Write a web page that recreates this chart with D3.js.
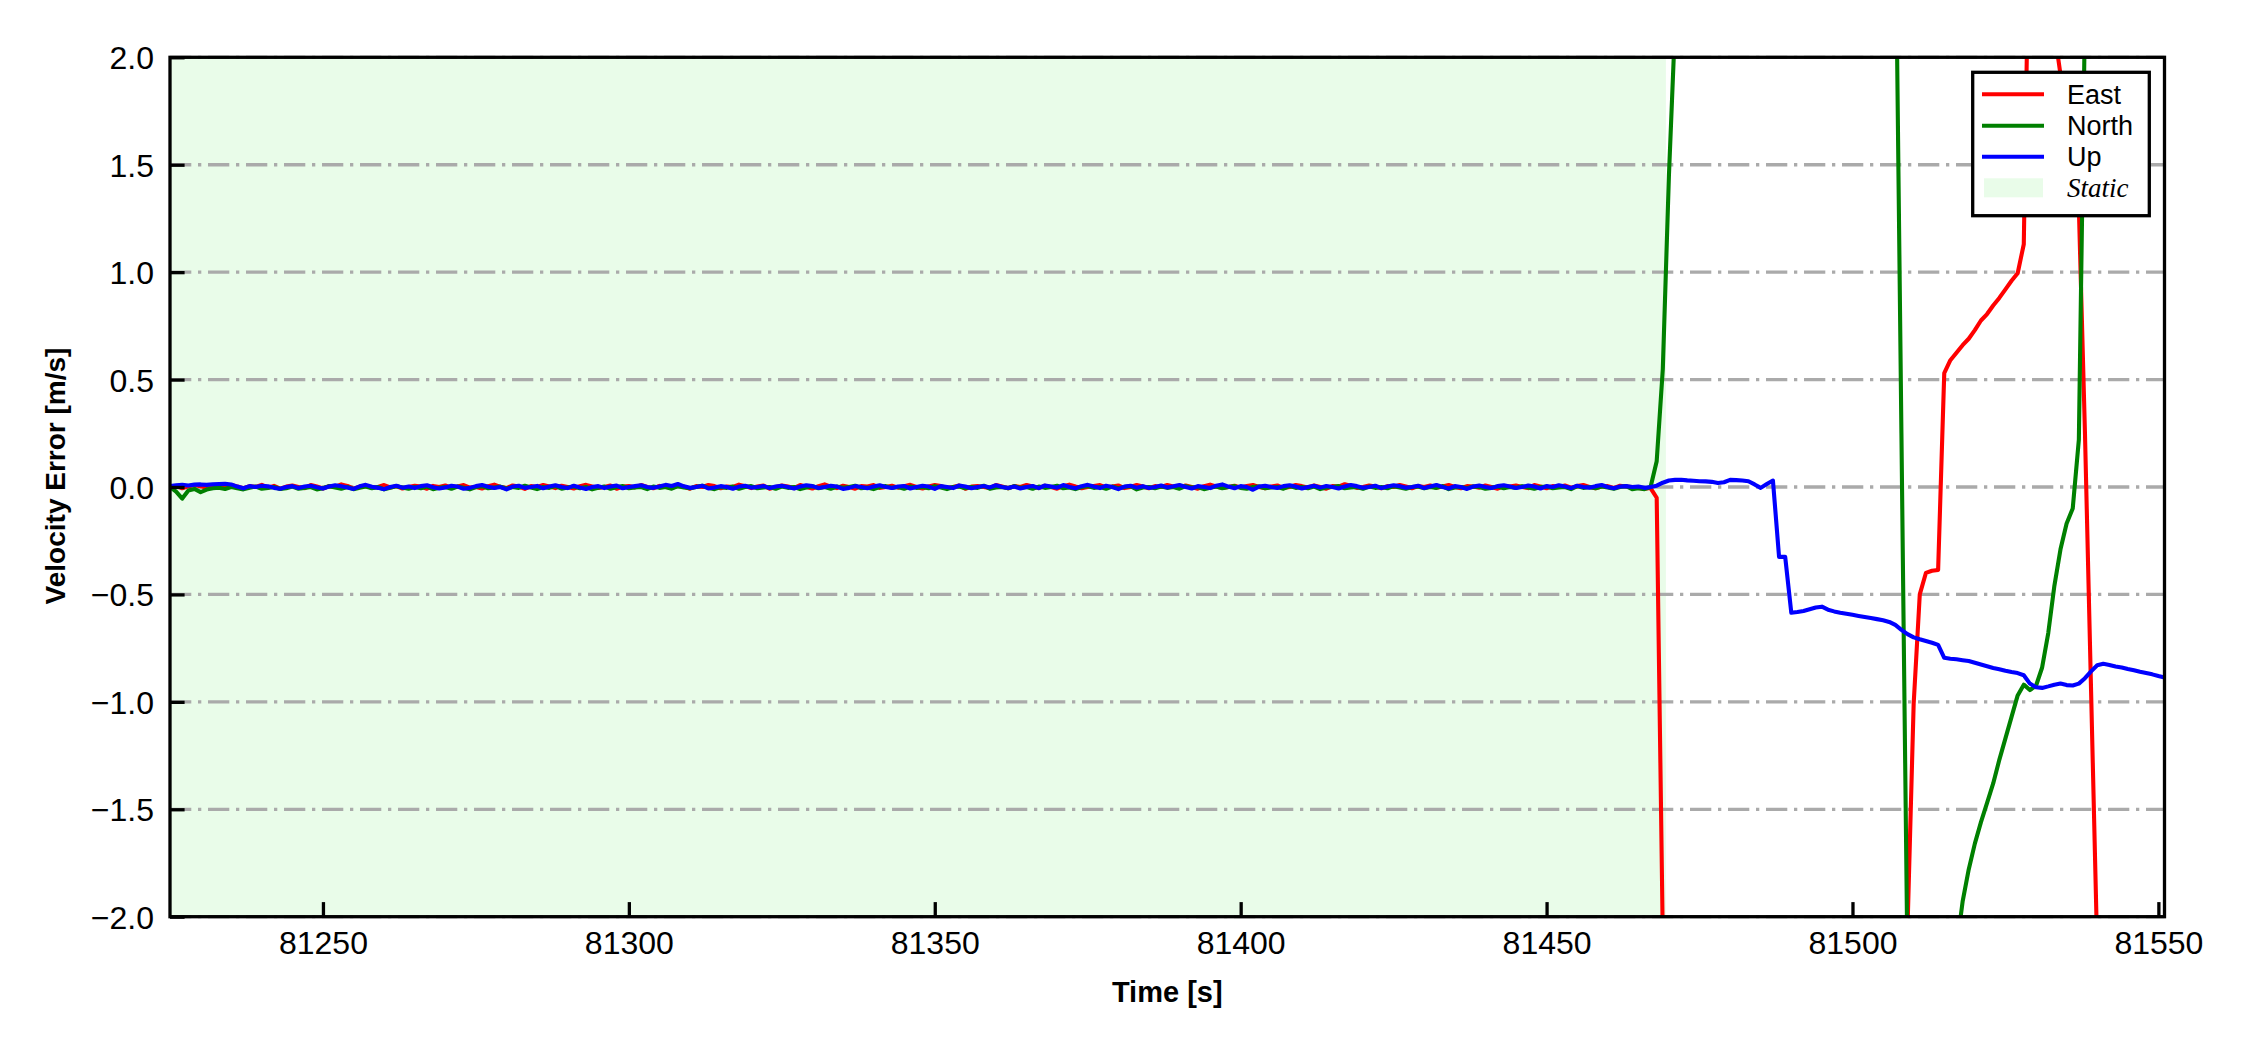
<!DOCTYPE html>
<html>
<head>
<meta charset="utf-8">
<script src="https://cdn.jsdelivr.net/npm/d3@7"></script>
<style>
body { margin: 0; background: #fff; }
</style>
</head>
<body>
<script>
// static segment, 1 Hz from 81225 s to 81466 s
const staticStart = 81225;
const eastStatic = [
  .000,.005,-.006,.003,.008,.004,-.003,.007,.000,-.005,.009,.002,-.006,.004,.000,.010,-.003,.005,-.008,.002,
  .007,.000,-.005,.009,.002,-.007,.004,.000,.012,.005,-.008,.002,.006,-.004,.000,.009,-.002,.004,-.007,.000,
  .006,.002,-.008,.005,.000,.007,-.004,.002,.009,-.003,.000,-.007,.004,.011,.000,-.005,.007,.002,-.009,.004,
  .000,.009,.002,-.005,.006,.000,-.007,.004,.010,.002,-.005,.000,.007,-.008,.002,.005,-.002,.009,.000,-.006,
  .005,.000,-.005,.007,.002,-.008,.004,.000,.009,.004,-.006,.002,.000,.011,.004,-.005,.002,.007,-.008,.000,
  .007,.002,-.005,.009,.000,-.007,.004,.012,.002,-.005,.006,.000,-.008,.004,.002,.009,-.004,.000,.006,-.003,
  .004,.010,.000,-.007,.002,.009,.004,-.005,.000,.007,-.008,.002,.005,.000,-.005,.009,.002,-.006,.004,.000,
  .009,.002,-.005,.006,.000,-.008,.004,.011,.002,-.006,.000,.005,.009,-.002,.002,.007,-.005,.000,.009,.002,
  -.006,.004,.000,.009,.002,-.005,.007,.000,-.008,.004,.011,.002,-.005,.000,.006,-.003,.005,.009,.000,-.006,
  .002,.007,-.005,.000,.009,.004,-.002,.007,.000,-.008,.004,.002,.013,.006,-.004,.000,.007,.002,-.006,.004,
  .000,.009,.002,-.006,.004,.000,.007,-.004,.002,.009,.000,-.006,.004,.002,-.003,.007,.000,-.008,.004,.002,
  .007,.000,-.005,.009,.002,-.006,.004,.000,.007,-.003,.004,.009,.000,-.006,.002,.004,-.005,.006,.002,.000,
  -.004,-.008
];
const northStatic = [
  .000,-.022,-.054,-.016,-.009,-.024,-.012,-.006,-.003,-.009,.000,-.006,-.011,-.004,.002,-.008,-.004,.000,-.009,-.006,
  .002,-.008,-.004,.000,-.011,-.006,.004,-.002,-.008,.000,-.010,-.004,.002,-.006,.000,-.011,-.004,.004,-.002,-.008,
  .000,-.006,.002,-.010,-.004,.000,-.008,.002,-.004,-.011,.000,.004,-.006,-.002,.002,-.008,.000,-.004,.006,-.002,
  -.010,.000,-.004,.004,-.008,-.002,.002,-.006,.000,-.011,-.004,.002,-.008,.000,.004,-.006,-.002,.000,-.010,.002,
  -.004,.000,-.008,.004,-.002,-.006,.000,.006,-.004,-.010,.000,-.004,.002,-.008,.000,.004,-.006,-.002,.000,-.008,
  .002,-.004,.000,-.010,-.002,.004,-.006,.000,-.008,.002,-.004,.000,.006,-.006,-.002,-.010,.000,.004,-.004,.000,
  -.008,.002,-.004,.000,-.006,.004,-.002,-.010,.000,.002,-.006,.000,-.004,.006,-.008,-.002,.000,-.006,.004,-.004,
  .000,-.008,.002,-.004,.000,.006,-.006,-.002,-.010,.000,.004,-.004,.000,-.008,.002,-.006,.000,.004,-.011,-.002,
  .000,-.006,.002,-.004,.000,-.008,.004,-.002,.000,-.010,-.004,.002,-.006,.000,.004,-.004,-.008,.000,.002,-.006,
  -.002,.000,-.008,.004,-.004,.000,-.006,.002,-.010,-.002,.000,.004,-.006,-.002,.000,-.008,.002,-.004,.000,-.006,
  .004,-.002,-.008,.000,.002,-.006,.000,-.004,.004,-.010,-.002,.000,-.006,.002,.000,-.008,-.004,.002,-.006,.000,
  -.004,.004,-.002,-.008,.000,.002,-.006,-.002,.000,-.010,.004,-.004,.000,-.006,.002,-.002,-.008,.000,.004,-.010,
  -.006,-.010
];
const upStatic = [
  .004,.008,.010,.007,.011,.012,.010,.013,.014,.015,.012,.002,-.006,.004,.000,.006,.003,-.004,-.008,.000,
  .004,-.005,.002,.006,-.001,-.007,.002,.008,.003,-.002,-.009,.003,.010,.001,-.004,-.010,.000,.006,-.003,.002,
  -.005,.004,.008,-.001,-.007,-.002,.006,.002,-.008,-.004,.004,.009,.001,-.005,.000,-.011,.002,.006,-.004,.000,
  .005,-.006,.002,.008,.000,-.005,.006,-.002,-.009,.000,.004,-.005,.002,.007,-.006,.000,.004,.008,.000,-.004,
  .002,.010,.005,.014,.003,-.004,.000,.006,-.007,-.002,.004,.000,-.008,.002,.006,-.003,.000,.005,-.005,.002,
  .006,.000,-.007,.002,.008,.004,-.005,.000,.006,.002,-.009,-.004,.004,.000,-.006,.002,.008,.000,-.005,.002,
  .005,-.007,.000,.006,.002,-.009,.004,.000,-.005,.007,.002,-.006,.000,.005,-.002,.008,.000,-.005,.002,-.007,
  .000,.005,-.005,.007,.002,-.003,.009,.000,-.006,.004,.010,.002,-.005,.006,.000,-.010,.002,.006,-.003,.004,
  -.005,.000,.007,-.002,.003,.009,.000,-.007,.004,.000,-.005,.006,.012,.002,-.006,.004,.000,-.013,.002,.006,
  .000,-.005,.004,.008,.002,-.007,.000,.006,-.003,.005,.000,-.007,.002,.009,.004,-.003,.000,.006,-.005,.002,
  .008,.004,-.003,.000,.006,-.005,.002,.009,.000,-.007,.004,.000,-.009,.002,.007,.000,-.005,.004,.008,.002,
  -.005,.000,.007,.002,-.007,.004,.000,.008,.002,-.005,.006,.000,-.003,.004,.009,.000,-.006,.002,.004,.000,
  .002,-.004
];

// dynamic segment, 1 Hz from 81467 s to 81551 s
const dynStart = 81467;
const eastDyn = [
  -.005,-.050,-2.10,-3.0,-3.6,-4.1,-4.5,-4.8,-5.0,-5.1,
  -5.2,-5.2,-5.1,-5.0,-4.9,-4.8,-4.7,-4.6,-4.5,-4.4,
  -4.3,-4.2,-4.1,-4.0,-3.9,-3.8,-3.8,-3.7,-3.6,-3.6,
  -3.5,-3.5,-3.4,-3.4,-3.3,-3.3,-3.3,-3.2,-3.2,-3.2,
  -3.1,-3.1,-2.05,-1.01,-.500,-.400,-.390,-.386,.530,.590,
  .625,.660,.690,.730,.775,.805,.845,.880,.920,.960,
  .995,1.13,2.90,3.40,3.20,2.60,2.12,1.92,1.72,1.52,
  1.30,.250,-.950,-2.15,-3.0,-3.6,-4.0,-4.3,-4.5,-4.6,
  -4.7,-4.7,-4.8,-4.8,-4.9
];
const northDyn = [
  .000,.120,.550,1.45,2.15,3.0,3.7,4.3,4.8,5.2,
  5.5,5.7,5.8,5.9,5.9,5.8,5.7,5.6,5.5,5.4,
  5.3,5.2,5.1,5.0,4.9,4.8,4.7,4.6,4.5,4.4,
  4.3,4.2,4.1,4.0,3.9,3.8,3.7,3.6,3.5,3.3,
  2.75,.250,-2.25,-3.5,-4.2,-4.5,-4.4,-3.9,-3.3,-2.7,
  -2.15,-1.93,-1.78,-1.66,-1.56,-1.47,-1.38,-1.27,-1.17,-1.07,
  -.970,-.920,-.945,-.925,-.840,-.680,-.460,-.290,-.170,-.100,
  .220,2.20,3.4,4.2,4.8,5.2,5.5,5.7,5.9,6.0,
  6.1,6.1,6.2,6.2,6.2
];
const upDyn = [
  .000,.006,.020,.030,.033,.034,.031,.029,.027,.026,
  .024,.019,.022,.033,.032,.030,.027,.012,-.004,.014,
  .030,-.325,-.325,-.585,-.582,-.577,-.569,-.561,-.557,-.571,
  -.579,-.585,-.590,-.595,-.600,-.605,-.610,-.615,-.620,-.628,
  -.642,-.665,-.685,-.700,-.709,-.717,-.725,-.735,-.795,-.799,
  -.802,-.806,-.810,-.818,-.826,-.834,-.842,-.848,-.855,-.861,
  -.866,-.876,-.915,-.932,-.935,-.928,-.920,-.915,-.922,-.924,
  -.915,-.890,-.858,-.830,-.823,-.828,-.835,-.840,-.847,-.853,
  -.860,-.866,-.872,-.880,-.887
];

const seriesNames = ["East", "North", "Up"];
const seriesColors = ["#ff0000", "#008000", "#0000ff"];
const staticRange = [81225, 81469.5];
const xTicks = [81250, 81300, 81350, 81400, 81450, 81500, 81550];
const yTicks = [-2.0, -1.5, -1.0, -0.5, 0.0, 0.5, 1.0, 1.5, 2.0];

if (eastStatic.length !== 242 || northStatic.length !== 242 || upStatic.length !== 242 ||
    eastDyn.length !== 85 || northDyn.length !== 85 || upDyn.length !== 85) {
  throw new Error("length mismatch " + [eastStatic.length, northStatic.length, upStatic.length,
    eastDyn.length, northDyn.length, upDyn.length].join(","));
}

function toPoints(st, dy) {
  const pts = st.map((v, i) => [staticStart + i, v]);
  return pts.concat(dy.map((v, i) => [dynStart + i, v]));
}
const series = [
  toPoints(eastStatic, eastDyn),
  toPoints(northStatic, northDyn),
  toPoints(upStatic, upDyn)
];

const W = 2250, H = 1050;
const plotL = 170, plotR = 2164.5, plotT = 57.3, plotB = 916.7;
const font = "'Liberation Sans', Arial, sans-serif";

const svg = d3.select("body").append("svg")
  .attr("width", W)
  .attr("height", H)
  .style("background-color", "white");

const x = d3.scaleLinear().domain([81225, 81551]).range([plotL, plotR]);
const y = d3.scaleLinear().domain([-2, 2]).range([plotB, plotT]);

svg.append("defs").append("clipPath").attr("id", "plotclip")
  .append("rect")
  .attr("x", plotL).attr("y", plotT)
  .attr("width", plotR - plotL).attr("height", plotB - plotT);

// static shading
svg.append("rect")
  .attr("x", x(staticRange[0]))
  .attr("y", plotT)
  .attr("width", x(staticRange[1]) - x(staticRange[0]))
  .attr("height", plotB - plotT)
  .attr("fill", "#e9fce9");

// grid
svg.append("g").selectAll("line")
  .data(yTicks)
  .enter().append("line")
  .attr("x1", plotL).attr("x2", plotR)
  .attr("y1", d => y(d)).attr("y2", d => y(d))
  .attr("stroke", "#aaaaaa")
  .attr("stroke-width", 3.3)
  .attr("stroke-dasharray", "21.3 6.7 3.3 6.7");

// lines
const line = d3.line().x(d => x(d[0])).y(d => y(d[1]));
svg.append("g").attr("clip-path", "url(#plotclip)")
  .selectAll("path")
  .data(series)
  .enter().append("path")
  .attr("d", line)
  .attr("fill", "none")
  .attr("stroke", (d, i) => seriesColors[i])
  .attr("stroke-width", 4.1)
  .attr("stroke-linejoin", "round");

// axes
const xAxis = svg.append("g")
  .attr("transform", `translate(0,${plotB})`)
  .call(d3.axisBottom(x).tickValues(xTicks).tickFormat(d3.format("d"))
    .tickSizeInner(-14.6).tickSizeOuter(0));
xAxis.select(".domain").remove();
xAxis.selectAll(".tick line").attr("stroke", "#000").attr("stroke-width", 3.3);
xAxis.selectAll(".tick text")
  .attr("y", 37.3).attr("dy", null)
  .attr("font-family", font).attr("font-size", 32).attr("fill", "#000");

const yAxis = svg.append("g")
  .attr("transform", `translate(${plotL},0)`)
  .call(d3.axisLeft(y).tickValues(yTicks).tickFormat(d3.format(".1f"))
    .tickSizeInner(-14.6).tickSizeOuter(0));
yAxis.select(".domain").remove();
yAxis.selectAll(".tick line").attr("stroke", "#000").attr("stroke-width", 3.3);
yAxis.selectAll(".tick text")
  .attr("x", -16).attr("dy", 11.5)
  .attr("font-family", font).attr("font-size", 32).attr("fill", "#000");

// spines
svg.append("rect")
  .attr("x", plotL).attr("y", plotT)
  .attr("width", plotR - plotL).attr("height", plotB - plotT)
  .attr("fill", "none")
  .attr("stroke", "#000")
  .attr("stroke-width", 3.3);

// axis labels
svg.append("text")
  .attr("x", (plotL + plotR) / 2).attr("y", 1001.5)
  .attr("text-anchor", "middle")
  .attr("font-family", font).attr("font-weight", "bold").attr("font-size", 29)
  .text("Time [s]");

svg.append("text")
  .attr("transform", "translate(65,476) rotate(-90)")
  .attr("text-anchor", "middle")
  .attr("font-family", font).attr("font-weight", "bold").attr("font-size", 28)
  .text("Velocity Error [m/s]");

// legend
const lg = svg.append("g").attr("transform", "translate(1972.7,72.3)");
lg.append("rect")
  .attr("width", 176.6).attr("height", 143.4)
  .attr("fill", "white")
  .attr("stroke", "#000").attr("stroke-width", 3.3);

const rowY = [22, 53.4, 84.4];
seriesNames.forEach((name, i) => {
  lg.append("line")
    .attr("x1", 9.3).attr("x2", 71.3)
    .attr("y1", rowY[i]).attr("y2", rowY[i])
    .attr("stroke", seriesColors[i]).attr("stroke-width", 4.1);
  lg.append("text")
    .attr("x", 94.3).attr("y", rowY[i] + 9.8)
    .attr("font-family", font).attr("font-size", 27)
    .text(name);
});
lg.append("rect")
  .attr("x", 11.3).attr("y", 106)
  .attr("width", 59).attr("height", 19)
  .attr("fill", "#e9fce9");
lg.append("text")
  .attr("x", 94.3).attr("y", 125)
  .attr("font-family", "'Liberation Serif', 'Times New Roman', serif")
  .attr("font-style", "italic").attr("font-size", 27)
  .text("Static");
</script>
</body>
</html>
